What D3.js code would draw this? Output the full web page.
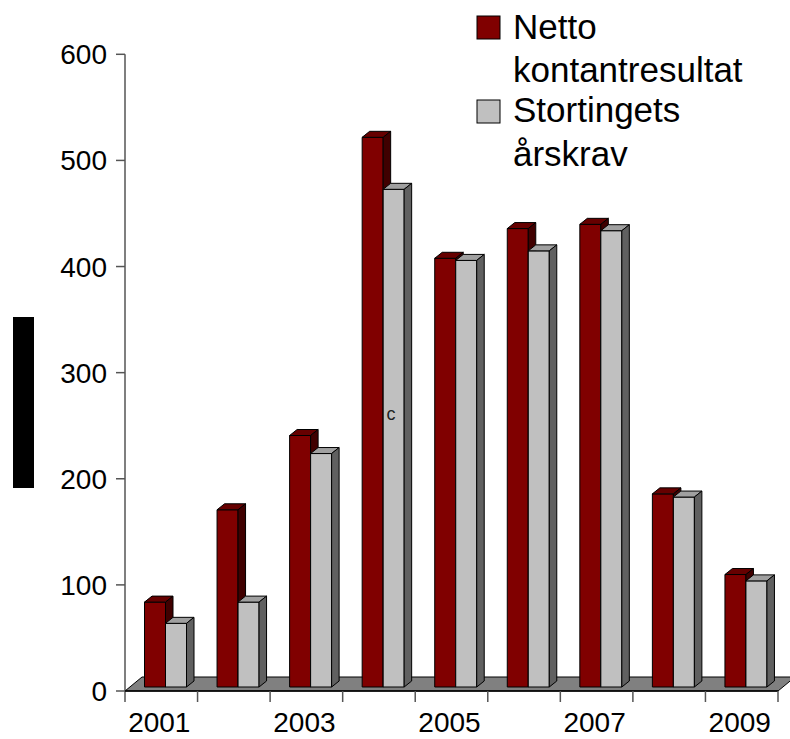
<!DOCTYPE html>
<html><head><meta charset="utf-8">
<script src="https://cdn.jsdelivr.net/npm/d3@7"></script>
<style>html,body{margin:0;padding:0;background:#fff;}svg{display:block;font-family:"Liberation Sans",Arial,sans-serif;}</style>
</head><body>
<script>
const years = [2001, 2002, 2003, 2004, 2005, 2006, 2007, 2008, 2009];
const yearLabels = ["2001", "2003", "2005", "2007", "2009"];
const netto = [80, 167, 237, 518, 404, 432, 436, 182, 106];
const krav = [60, 80, 220, 469, 402, 411, 430, 179, 100];
const yTicks = [0, 100, 200, 300, 400, 500, 600];
const seriesNames = ["Netto", "kontantresultat", "Stortingets", "årskrav"];

const W = 790, H = 739;
const svg = d3.select("body").append("svg").attr("width", W).attr("height", H);

const x = d3.scaleBand().domain(years).range([125, 778]).padding(0);
const y = d3.scaleLinear().domain([0, 600]).range([691, 54.3]);

const DX = 7.5, DY = 6, BW = 21, OFF = 19.5, LIFT = 4;
const base = y(0) - LIFT;

// floor
svg.append("polygon")
  .attr("points", [[125, 691], [778, 691], [795, 677], [142, 677]].map(p => p.join(",")).join(" "))
  .attr("fill", "#808080").attr("stroke", "#000").attr("stroke-width", 1);

// black rectangle at left
svg.append("rect").attr("x", 13).attr("y", 317).attr("width", 21).attr("height", 171).attr("fill", "#000");

// bars
const series = [
  {vals: netto, front: "#800000", top: "#660000", side: "#400000", dx: 0},
  {vals: krav, front: "#c0c0c0", top: "#a0a0a0", side: "#606060", dx: BW}
];
const g = svg.append("g");
years.forEach((yr, i) => {
  series.forEach(s => {
    const v = s.vals[i];
    const x0 = x(yr) + OFF + s.dx, x1 = x0 + BW;
    const yt = y(v) - LIFT;
    const bg = g.append("g").attr("stroke", "#000").attr("stroke-width", 1).attr("stroke-linejoin", "round");
    bg.append("rect").attr("x", x0).attr("y", yt).attr("width", BW).attr("height", base - yt).attr("fill", s.front);
    bg.append("polygon").attr("points", [[x0, yt], [x1, yt], [x1 + DX, yt - DY], [x0 + DX, yt - DY]].map(p => p.join(",")).join(" ")).attr("fill", s.top);
    bg.append("polygon").attr("points", [[x1, yt], [x1 + DX, yt - DY], [x1 + DX, base - DY], [x1, base]].map(p => p.join(",")).join(" ")).attr("fill", s.side);
  });
});

// y axis
svg.append("line").attr("x1", 125).attr("x2", 125).attr("y1", y(600)).attr("y2", 702).attr("stroke", "#555").attr("stroke-width", 1.5);
yTicks.forEach(t => {
  svg.append("line").attr("x1", 116).attr("x2", 125).attr("y1", y(t)).attr("y2", y(t)).attr("stroke", "#555").attr("stroke-width", 1.5);
  svg.append("text").attr("x", 107).attr("y", y(t)).attr("dy", "0.36em").attr("text-anchor", "end")
    .attr("font-size", 28).attr("fill", "#000").text(t);
});

// x axis
svg.append("line").attr("x1", 125).attr("x2", 778).attr("y1", 691).attr("y2", 691).attr("stroke", "#000").attr("stroke-width", 1.5);
years.forEach((yr, i) => {
  const xb = x(yr) + x.step();
  svg.append("line").attr("x1", xb).attr("x2", xb).attr("y1", 691).attr("y2", 702).attr("stroke", "#555").attr("stroke-width", 1.5);
});
yearLabels.forEach(l => {
  const yr = +l;
  svg.append("text").attr("x", x(yr) + x.bandwidth() / 2 - 2).attr("y", 732).attr("text-anchor", "middle")
    .attr("font-size", 28).attr("fill", "#000").text(l);
});

// stray label
svg.append("text").attr("x", 386.5).attr("y", 419.5).attr("font-size", 18).attr("fill", "#222").text("c");

// legend
const leg = svg.append("g");
leg.append("rect").attr("x", 477).attr("y", 16).attr("width", 23).attr("height", 23).attr("fill", "#800000").attr("stroke", "#000");
leg.append("rect").attr("x", 477).attr("y", 100).attr("width", 23).attr("height", 23).attr("fill", "#c0c0c0").attr("stroke", "#000");
const ly = [39, 82, 122, 166];
seriesNames.forEach((t, i) => {
  leg.append("text").attr("x", 513).attr("y", ly[i]).attr("font-size", 35).attr("fill", "#000").text(t);
});
</script>
</body></html>
